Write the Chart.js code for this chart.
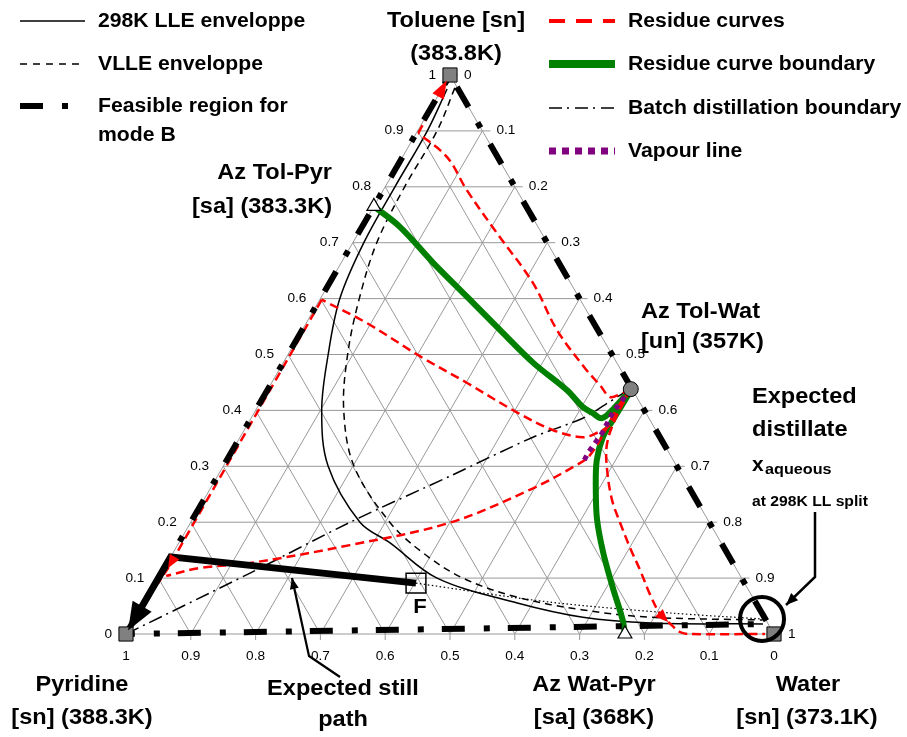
<!DOCTYPE html>
<html>
<head>
<meta charset="utf-8">
<script src="https://cdn.jsdelivr.net/npm/chart.js@4.4.0/dist/chart.umd.min.js"></script>
<style>
  html, body { margin: 0; padding: 0; background: #fff; }
  canvas { display: block; }
</style>
</head>
<body>
<canvas id="myChart" width="907" height="737"></canvas>
<script>
//Compositions as [toluene, water]; pyridine = 1 - toluene - water
const tickFractions = [0, 0.1, 0.2, 0.3, 0.4, 0.5, 0.6, 0.7, 0.8, 0.9, 1];
const tickLabels = ["0", "0.1", "0.2", "0.3", "0.4", "0.5", "0.6", "0.7", "0.8", "0.9", "1"];

//Singular points
const vertices = [[1, 0], [0, 0], [0, 1]]; //Toluene, Pyridine, Water
const azTolWat = [[0.438, 0.56]];
const azTolPyr = [[0.765, 0]];
const azWatPyr = [[0, 0.77]];
const feed = [[0.091, 0.402]];
const distillate = [[0.027, 0.968]];

//Envelopes
const lle298 = [[0.975, 0.008], [0.9, 0.015], [0.8, 0.015], [0.7, 0.017], [0.6, 0.03], [0.5, 0.062], [0.4, 0.102], [0.3, 0.162], [0.2, 0.261], [0.163, 0.326], [0.1, 0.43], [0.0555, 0.576], [0.03, 0.69], [0.0197, 0.8], [0.018, 0.974]];
const vlle = [[0.977, 0.019], [0.9, 0.03], [0.8, 0.03], [0.7, 0.037], [0.6, 0.06], [0.5, 0.092], [0.4, 0.136], [0.3, 0.202], [0.2, 0.307], [0.145, 0.386], [0.1, 0.47], [0.066, 0.57], [0.043, 0.684], [0.03, 0.794], [0.025, 0.97]];
const llSplit = [[0.091, 0.402], [0.057, 0.626], [0.0376, 0.821], [0.0268, 0.97]];

//Feasible region for mode B
const feasibleB = [[0, 0], [1, 0], [0.018, 0.982], [0, 0]];

//Residue curves
const residueTop = [[0.438, 0.56], [0.429, 0.548], [0.424, 0.535], [0.445, 0.509], [0.476, 0.47], [0.544, 0.393], [0.628, 0.314], [0.717, 0.214], [0.794, 0.129], [0.853, 0.069], [0.896, 0.003]];
const residueTopEdge = [[0.896, 0.003], [0.99, 0]];
const residueLeft = [[0.438, 0.56], [0.406, 0.559], [0.374, 0.56], [0.36, 0.547], [0.352, 0.529], [0.365, 0.476], [0.397, 0.404], [0.449, 0.302], [0.497, 0.205], [0.556, 0.094], [0.598, 0.003]];
const residueLeftEdge = [[0.598, 0.003], [0.118, 0.006], [0.09, 0.004]];
const residueLow = [[0.438, 0.56], [0.406, 0.556], [0.375, 0.557], [0.347, 0.558], [0.32, 0.556], [0.306, 0.548], [0.258, 0.494], [0.199, 0.4], [0.159, 0.266], [0.127, 0.128], [0.118, 0.055], [0.104, 0.01]];
const residueDown = [[0.438, 0.56], [0.383, 0.563], [0.338, 0.573], [0.293, 0.596], [0.24, 0.63], [0.199, 0.663], [0.154, 0.701], [0.1145, 0.736], [0.07, 0.774], [0.036, 0.806], [0.0215, 0.826]];
const residueDownTail = [[0.0215, 0.826], [0.004, 0.852], [0, 0.868], [0, 0.986]];

//Residue curve boundaries
const boundaryTolPyr = [[0.765, 0], [0.728, 0.059], [0.664, 0.142], [0.603, 0.225], [0.544, 0.305], [0.485, 0.386], [0.4365, 0.462], [0.406, 0.502], [0.395, 0.523], [0.386, 0.541], [0.4, 0.55], [0.438, 0.56]];
const boundaryWatPyr = [[0.438, 0.56], [0.424, 0.561], [0.383, 0.56], [0.352, 0.56], [0.311, 0.571], [0.258, 0.596], [0.204, 0.625], [0.145, 0.664], [0.084, 0.709], [0.025, 0.754], [0, 0.77]];

//Batch distillation boundary, vapour line, still path
const batchBoundary = [[0, 0], [0.109, 0.137], [0.2, 0.246], [0.2826, 0.359], [0.352, 0.452], [0.386, 0.512], [0.41, 0.534], [0.4365, 0.557]];
const vapourLine = [[0.438, 0.56], [0.397, 0.553], [0.36, 0.555], [0.324, 0.551], [0.304, 0.552]];
const stillPath = [[0.091, 0.402], [0.138, 0], [0.025, 0]];

//Ternary -> plane (unit base, height in toluene fraction)
const pt = ([t, w]) => ({ x: w + t / 2, y: t });

const RED = "rgb(255,0,0)";
const GREEN = "rgb(0,128,0)";
const PURPLE = "rgb(128,0,128)";
const FONT = '"Liberation Sans", Arial, sans-serif';

const linha = (data, color, width, dash, order, extra) => ({
  data: data.map(pt),
  showLine: true,
  borderColor: color,
  borderWidth: width,
  borderDash: dash,
  pointRadius: 0,
  fill: false,
  tension: 0,
  order: order,
  ...extra,
});

const ponto = (data, style, radius, bg, border, order) => ({
  data: data.map(pt),
  showLine: false,
  pointStyle: style,
  pointRadius: radius,
  pointBackgroundColor: bg,
  pointBorderColor: "#000",
  pointBorderWidth: border,
  order: order,
});

//Text with a slight horizontal stretch like the original figure
const texto = (ctx, s, x, y, size, align, sx, weight, baseline) => {
  ctx.save();
  ctx.font = `${weight || "bold"} ${size}px ${FONT}`;
  ctx.textAlign = align;
  ctx.textBaseline = baseline || "middle";
  ctx.fillStyle = "#000";
  ctx.translate(x, y);
  ctx.scale(sx || 1, 1);
  ctx.fillText(s, 0, 0);
  ctx.restore();
};

const seta = (ctx, tip, from, len, half, color) => {
  const dx = tip.x - from.x, dy = tip.y - from.y;
  const d = Math.hypot(dx, dy);
  const ux = dx / d, uy = dy / d;
  ctx.beginPath();
  ctx.moveTo(tip.x, tip.y);
  ctx.lineTo(tip.x - ux * len - uy * half, tip.y - uy * len + ux * half);
  ctx.lineTo(tip.x - ux * len + uy * half, tip.y - uy * len - ux * half);
  ctx.closePath();
  ctx.fillStyle = color;
  ctx.fill();
};

//Grid, edges, ticks and tick labels of the triangle
const gradeTernaria = {
  id: "gradeTernaria",
  beforeDatasetsDraw(chart) {
    const { ctx } = chart;
    const sx = chart.scales.x, sy = chart.scales.y;
    const px = (t, w) => ({ x: sx.getPixelForValue(w + t / 2), y: sy.getPixelForValue(t) });
    const seg = (a, b) => {
      ctx.beginPath();
      ctx.moveTo(a.x, a.y);
      ctx.lineTo(b.x, b.y);
      ctx.stroke();
    };
    ctx.save();
    ctx.strokeStyle = "#999";
    ctx.lineWidth = 1;
    tickFractions.forEach((f) => {
      seg(px(f, 0), px(f, 1 - f)); //toluene constant
      seg(px(0, f), px(1 - f, f)); //water constant
      seg(px(0, 1 - f), px(1 - f, 0)); //pyridine constant
    });
    //ticks on the water and pyridine sides
    tickFractions.forEach((f) => {
      const r = px(1 - f, f);
      seg(r, { x: r.x + 8, y: r.y });
      const b = px(0, 1 - f);
      seg(b, { x: b.x, y: b.y + 6 });
    });
    ctx.restore();
    tickFractions.forEach((f, i) => {
      const l = px(f, 0);
      texto(ctx, tickLabels[i], l.x - 14, l.y, 13, "right", 1.05, "normal");
      const r = px(1 - f, f);
      texto(ctx, tickLabels[i], r.x + 14, r.y, 13, "left", 1.05, "normal");
      const b = px(0, 1 - f);
      texto(ctx, tickLabels[i], b.x, b.y + 22, 13, "center", 1.05, "normal");
    });
  },
};

//Arrow heads at chosen points of datasets
const pontasSeta = {
  id: "pontasSeta",
  afterDatasetsDraw(chart) {
    const { ctx } = chart;
    chart.data.datasets.forEach((ds, i) => {
      if (!ds.arrow) return;
      const pts = chart.getDatasetMeta(i).data;
      const a = ds.arrow;
      const k = a.at < 0 ? pts.length - 1 : a.at;
      const from = pts[k - 1], p = pts[k];
      const d = Math.hypot(p.x - from.x, p.y - from.y);
      const e = a.ext || 0;
      const tip = { x: p.x + ((p.x - from.x) / d) * e, y: p.y + ((p.y - from.y) / d) * e };
      seta(ctx, tip, from, a.len, a.half, ds.borderColor);
    });
  },
};

//Labels, callouts and legend
const anotacoes = {
  id: "anotacoes",
  afterDraw(chart) {
    const { ctx } = chart;
    const L = 22, SX = 1.07;
    texto(ctx, "Toluene [sn]", 456, 21, L, "center", SX);
    texto(ctx, "(383.8K)", 456, 54, L, "center", SX);
    texto(ctx, "Az Tol-Pyr", 332, 173, L, "right", SX);
    texto(ctx, "[sa] (383.3K)", 332, 207, L, "right", SX);
    texto(ctx, "Az Tol-Wat", 641, 312, L, "left", SX);
    texto(ctx, "[un] (357K)", 641, 342, L, "left", SX);
    texto(ctx, "Expected", 752, 397, L, "left", SX);
    texto(ctx, "distillate", 752, 430, L, "left", SX);
    texto(ctx, "x", 752, 471, 21, "left", 1.0, "bold", "alphabetic");
    texto(ctx, "aqueous", 765, 474, 15, "left", 1.08, "bold", "alphabetic");
    texto(ctx, "at 298K LL split", 752, 502, 14, "left", 1.12);
    texto(ctx, "F", 420, 607, 21, "center", 1.05);
    texto(ctx, "Pyridine", 82, 685, L, "center", SX);
    texto(ctx, "[sn] (388.3K)", 82, 718, L, "center", SX);
    texto(ctx, "Expected still", 343, 689, L, "center", SX);
    texto(ctx, "path", 343, 720, L, "center", SX);
    texto(ctx, "Az Wat-Pyr", 594, 685, L, "center", SX);
    texto(ctx, "[sa] (368K)", 594, 718, L, "center", SX);
    texto(ctx, "Water", 808, 685, L, "center", SX);
    texto(ctx, "[sn] (373.1K)", 807, 718, L, "center", SX);

    //callout arrows
    const callout = (pts, w, len, half) => {
      ctx.save();
      ctx.strokeStyle = "#000";
      ctx.lineWidth = w;
      ctx.beginPath();
      pts.forEach((p, i) => (i ? ctx.lineTo(p.x, p.y) : ctx.moveTo(p.x, p.y)));
      ctx.stroke();
      seta(ctx, pts[pts.length - 1], pts[pts.length - 2], len, half, "#000");
      ctx.restore();
    };
    callout([{ x: 340, y: 677 }, { x: 309, y: 656 }, { x: 292, y: 578 }], 2.2, 11, 4.5);
    callout([{ x: 815, y: 512 }, { x: 815, y: 577 }, { x: 786, y: 605 }], 2.5, 12, 5);

    //legend
    const amostra = (x1, x2, y, color, width, dash) => {
      ctx.save();
      ctx.strokeStyle = color;
      ctx.lineWidth = width;
      ctx.setLineDash(dash);
      ctx.beginPath();
      ctx.moveTo(x1, y);
      ctx.lineTo(x2, y);
      ctx.stroke();
      ctx.restore();
    };
    const G = 20, GS = 1.06;
    amostra(20, 85, 21, "#000", 1.5, []);
    texto(ctx, "298K LLE enveloppe", 98, 21, G, "left", GS);
    amostra(20, 85, 64, "#000", 1.5, [7, 6]);
    texto(ctx, "VLLE enveloppe", 98, 64, G, "left", GS);
    ctx.fillStyle = "#000";
    ctx.fillRect(20, 103, 23, 6);
    ctx.fillRect(62, 103, 6, 6);
    texto(ctx, "Feasible region for", 98, 106, G, "left", GS);
    texto(ctx, "mode B", 98, 135, G, "left", GS);

    amostra(549, 615, 21, RED, 4, [16, 11]);
    texto(ctx, "Residue curves", 628, 21, G, "left", GS);
    amostra(549, 615, 64, GREEN, 8, []);
    texto(ctx, "Residue curve boundary", 628, 64, G, "left", GS);
    amostra(549, 615, 108, "#000", 1.5, [13, 5, 2, 6]);
    texto(ctx, "Batch distillation boundary", 628, 108, G, "left", GS);
    amostra(549, 615, 151, PURPLE, 7, [7, 6]);
    texto(ctx, "Vapour line", 628, 151, G, "left", GS);
  },
};

const ctx = document.getElementById("myChart").getContext("2d");
const chart = new Chart(ctx, {
  type: "scatter",
  data: {
    datasets: [
      ponto(distillate, "circle", 22, "rgba(0,0,0,0)", 4, 0),
      ponto(vertices, "rect", 10, "#808080", 1, 1),
      ponto(azTolWat, "circle", 7.5, "#808080", 1, 1),
      ponto(azTolPyr, "triangle", 8, "#fff", 1.2, 1),
      ponto(azWatPyr, "triangle", 8, "#fff", 1.2, 1),
      ponto(feed, "rect", 14, "rgba(0,0,0,0)", 1.5, 1),
      linha(stillPath, "#000", 7, [], 2, { arrow: { at: -1, len: 28, half: 11, ext: 12 } }),
      linha(feasibleB, "#000", 6, [23, 18, 6, 19], 3),
      linha(vapourLine, PURPLE, 5, [5, 5], 4),
      linha(residueTop, RED, 2.5, [9, 5], 5, { tension: 0.35 }),
      linha(residueTopEdge, RED, 2.5, [9, 5], 5, { arrow: { at: -1, len: 18, half: 6.5 } }),
      linha(residueLeft, RED, 2.5, [9, 5], 5, { tension: 0.35 }),
      linha(residueLeftEdge, RED, 2.5, [9, 5], 5, { arrow: { at: 1, len: 13, half: 5.5 } }),
      linha(residueLow, RED, 2.5, [9, 5], 5, { tension: 0.35 }),
      linha(residueDown, RED, 2.5, [9, 5], 5, { tension: 0.35, arrow: { at: -1, len: 13, half: 5.5 } }),
      linha(residueDownTail, RED, 2.5, [9, 5], 5, { tension: 0.3 }),
      linha(boundaryTolPyr, GREEN, 6, [], 6, { tension: 0.35 }),
      linha(boundaryWatPyr, GREEN, 6, [], 6, { tension: 0.35 }),
      linha(batchBoundary, "#000", 1.5, [14, 5, 2, 5], 7, { tension: 0.3 }),
      linha(lle298, "#000", 1.5, [], 8, { tension: 0.35 }),
      linha(vlle, "#000", 1.5, [7, 5], 8, { tension: 0.35 }),
      linha(llSplit, "#000", 1.2, [1.5, 2.5], 8, { tension: 0.3 }),
    ],
  },
  options: {
    responsive: false,
    animation: false,
    events: [],
    layout: { padding: 0, autoPadding: false },
    plugins: { legend: { display: false }, tooltip: { enabled: false } },
    scales: {
      x: { type: "linear", display: false, min: -126 / 648, max: 781 / 648 },
      y: { type: "linear", display: false, min: -103 / 559, max: 634 / 559 },
    },
  },
  plugins: [gradeTernaria, pontasSeta, anotacoes],
});
</script>
</body>
</html>
